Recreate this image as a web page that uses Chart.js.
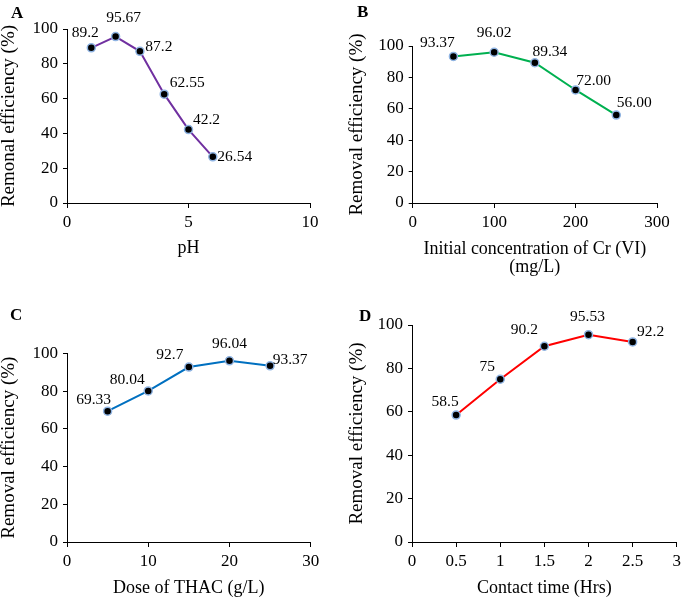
<!DOCTYPE html>
<html>
<head>
<meta charset="utf-8">
<script src="https://cdn.jsdelivr.net/npm/chart.js@4.4.1/dist/chart.umd.min.js"></script>
<style>
  body { margin: 0; background: #fff; }
  #wrap { position: relative; width: 685px; height: 599px; overflow: hidden; }
  canvas { position: absolute; }
  .tag { position: absolute; font: bold 17px "Liberation Serif", serif; color: #000; }
</style>
</head>
<body>
<div id="wrap">
  <canvas id="chartA" width="340" height="258" style="left:0;top:0"></canvas>
  <canvas id="chartB" width="337" height="277" style="left:348px;top:0"></canvas>
  <canvas id="chartC" width="340" height="298" style="left:0;top:300px"></canvas>
  <canvas id="chartD" width="337" height="298" style="left:348px;top:300px"></canvas>
  <div class="tag" style="left:11px;top:3px">A</div>
  <div class="tag" style="left:357px;top:2px">B</div>
  <div class="tag" style="left:10px;top:305px">C</div>
  <div class="tag" style="left:359px;top:306px">D</div>
</div>
<script>
// 数据
const phValues = [1, 2, 3, 4, 5, 6];
const phRemoval = [89.2, 95.67, 87.2, 62.55, 42.2, 26.54];

const crConc = [50, 100, 150, 200, 250];
const crRemoval = [93.37, 96.02, 89.34, 72.00, 56.00];

const doseValues = [5, 10, 15, 20, 25];
const doseRemoval = [69.33, 80.04, 92.7, 96.04, 93.37];

const timeValues = [0.5, 1, 1.5, 2, 2.5];
const timeRemoval = [58.5, 75, 90.2, 95.53, 92.2];

// 标签偏移 (相对数据点)
const offsetsA = [[-6, -15], [8, -19], [19, -4], [23, -11], [18, -10], [22, 0]];
const offsetsB = [[-16, -13], [0, -19], [15, -11], [18, -9], [18, -12]];
const offsetsC = [[-14, -11], [-21, -11], [-19, -12], [0, -17], [20, -6]];
const offsetsD = [[-11, -13], [-13, -12], [-20, -16], [-1, -18], [18, -10]];

const FONT = 'Liberation Serif';
Chart.defaults.font.family = FONT;
Chart.defaults.color = '#000';

// 数据点标签插件
const pointLabels = {
    id: 'pointLabels',
    afterDatasetsDraw(chart, args, opts) {
        const ctx = chart.ctx;
        const ds = chart.data.datasets[0];
        const meta = chart.getDatasetMeta(0);
        ctx.save();
        ctx.font = '15.5px ' + FONT;
        ctx.fillStyle = '#000';
        ctx.textAlign = 'center';
        ctx.textBaseline = 'middle';
        meta.data.forEach((pt, i) => {
            const v = ds.data[i].y;
            const txt = opts.decimals != null ? v.toFixed(opts.decimals) : String(v);
            const off = opts.offsets[i];
            ctx.fillText(txt, pt.x + off[0], pt.y + off[1]);
        });
        ctx.restore();
    }
};

function makePanel(id, cfg) {
    const points = cfg.xs.map((x, i) => ({ x: x, y: cfg.ys[i] }));
    new Chart(document.getElementById(id), {
        type: 'line',
        data: {
            datasets: [{
                data: points,
                borderColor: cfg.color,
                borderWidth: 2,
                tension: 0,
                pointRadius: 4,
                pointBackgroundColor: '#000',
                pointBorderColor: '#8fb4e3',
                pointBorderWidth: 1.5
            }]
        },
        options: {
            responsive: false,
            animation: false,
            devicePixelRatio: 1,
            layout: { padding: cfg.padding },
            plugins: {
                legend: { display: false },
                tooltip: { enabled: false },
                pointLabels: { offsets: cfg.offsets, decimals: cfg.decimals }
            },
            scales: {
                x: {
                    type: 'linear',
                    min: cfg.xMin,
                    max: cfg.xMax,
                    afterFit: s => { s.height = cfg.xHeight; },
                    ticks: {
                        stepSize: cfg.xStep,
                        font: { size: 17 },
                        padding: 4,
                        callback: v => String(v)
                    },
                    grid: { drawOnChartArea: false, color: '#000', tickLength: 5 },
                    border: { color: '#000', width: 1 },
                    title: {
                        display: true,
                        text: cfg.xTitle,
                        font: { size: 18, lineHeight: 1.03 },
                        padding: 0
                    }
                },
                y: {
                    min: 0,
                    max: 100,
                    afterFit: s => { s.width = cfg.yWidth; },
                    ticks: { stepSize: 20, font: { size: 17 }, padding: 5 },
                    grid: { drawOnChartArea: false, color: '#000', tickLength: 4 },
                    border: { color: '#000', width: 1 },
                    title: {
                        display: true,
                        text: cfg.yTitle,
                        font: { size: 19, lineHeight: 1.0 },
                        padding: 0
                    }
                }
            }
        },
        plugins: [pointLabels]
    });
}

makePanel('chartA', {
    xs: phValues, ys: phRemoval, color: '#7030a0', offsets: offsetsA,
    xMin: 0, xMax: 10, xStep: 5, xTitle: 'pH', yTitle: 'Remonal efficiency (%)',
    padding: { top: 29, right: 30, left: 0, bottom: 0 }, yWidth: 67, xHeight: 55
});

makePanel('chartB', {
    xs: crConc, ys: crRemoval, color: '#00b050', offsets: offsetsB, decimals: 2,
    xMin: 0, xMax: 300, xStep: 100,
    xTitle: ['Initial concentration of Cr (VI)', '(mg/L)'], yTitle: 'Removal efficiency (%)',
    padding: { top: 46, right: 28, left: 0, bottom: 0 }, yWidth: 64.7, xHeight: 74
});

makePanel('chartC', {
    xs: doseValues, ys: doseRemoval, color: '#0070c0', offsets: offsetsC,
    xMin: 0, xMax: 30, xStep: 10, xTitle: 'Dose of THAC (g/L)', yTitle: 'Removal efficiency (%)',
    padding: { top: 53.3, right: 29.3, left: 0, bottom: 0 }, yWidth: 67, xHeight: 56
});

makePanel('chartD', {
    xs: timeValues, ys: timeRemoval, color: '#ff0000', offsets: offsetsD,
    xMin: 0, xMax: 3, xStep: 0.5, xTitle: 'Contact time (Hrs)', yTitle: 'Removal efficiency (%)',
    padding: { top: 25, right: 5.7, left: 0, bottom: 0 }, yWidth: 64, xHeight: 56
});
</script>
</body>
</html>
